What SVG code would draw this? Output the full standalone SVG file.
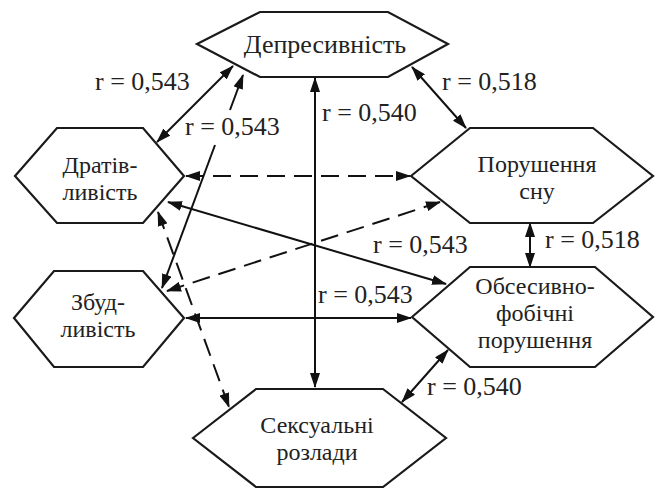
<svg xmlns="http://www.w3.org/2000/svg" width="657" height="488" viewBox="0 0 657 488">
<defs>
<style>
.node polygon{fill:#fff;stroke:#1a1a1a;stroke-width:2.2;stroke-linejoin:miter}
.txt text{font-size:26px;fill:#222}
.node text{text-anchor:middle;font-size:24px}
#n-depresyvnist text{font-size:26px}
.c{stroke:#111;stroke-width:2;fill:none;marker-end:url(#ah);marker-start:url(#ah)}
.c1{stroke:#111;stroke-width:2;fill:none;marker-end:url(#ah)}
.d{stroke-dasharray:18 9}
</style>
<marker id="ah" viewBox="0 0 15 10" refX="14" refY="5" markerWidth="15" markerHeight="10" markerUnits="userSpaceOnUse" orient="auto-start-reverse">
<path d="M0,0 L15,5 L0,10 z" fill="#111"/>
</marker>
</defs>
<rect width="657" height="488" fill="#fff"/>
<g id="connectors">
<line class="c" x1="157" y1="142" x2="233" y2="66"/>
<line class="c1" x1="230" y1="110" x2="243" y2="75"/>
<line class="c1" x1="215" y1="145" x2="162" y2="288"/>
<line class="c" x1="315" y1="78" x2="315" y2="387"/>
<line class="c" x1="412" y1="67" x2="466" y2="128"/>
<line class="c d" x1="186" y1="176" x2="410" y2="176"/>
<line class="c d" x1="167" y1="291" x2="440" y2="202"/>
<line class="c" x1="168" y1="202" x2="446" y2="284"/>
<line class="c" x1="186" y1="318" x2="411" y2="318"/>
<line class="c d" x1="158" y1="212" x2="229" y2="407"/>
<line class="c" x1="530" y1="223" x2="530" y2="267"/>
<line class="c" x1="448" y1="350" x2="402" y2="402"/>
</g>
<g class="txt" font-family="'Liberation Serif', 'Times New Roman', 'DejaVu Serif', serif">
<g id="n-depresyvnist" class="node">
<polygon points="197,44 260,12 388,12 448,44 388,77 260,77"/>
<text x="325" y="53">Депресивність</text>
</g>
<g id="n-drativlyvist" class="node">
<polygon points="15,176 57,128 143,128 184,176 143,223 57,223"/>
<text x="100" y="173">Дратів-</text>
<text x="100" y="200">ливість</text>
</g>
<g id="n-zbudlyvist" class="node">
<polygon points="14,318 54,271 143,271 184,318 143,367 54,367"/>
<text x="98" y="310">Збуд-</text>
<text x="98" y="337">ливість</text>
</g>
<g id="n-porushennia-snu" class="node">
<polygon points="411,176 470,128 593,128 653,176 593,223 470,223"/>
<text x="537" y="172">Порушення</text>
<text x="537" y="199">сну</text>
</g>
<g id="n-obsesyvno" class="node">
<polygon points="412,317 470,267 595,267 653,317 595,367 470,367"/>
<text x="535" y="294">Обсесивно-</text>
<text x="535" y="321">фобічні</text>
<text x="535" y="348">порушення</text>
</g>
<g id="n-seksualni" class="node">
<polygon points="193,438 256,389 383,389 446,438 383,487 256,487"/>
<text x="317" y="433">Сексуальні</text>
<text x="317" y="460">розлади</text>
</g>
<g id="labels">
<text x="95" y="90">r = 0,543</text>
<text x="185" y="135">r = 0,543</text>
<text x="322" y="121">r = 0,540</text>
<text x="442" y="90">r = 0,518</text>
<text x="373" y="253">r = 0,543</text>
<text x="545" y="248">r = 0,518</text>
<text x="318" y="303">r = 0,543</text>
<text x="427" y="395">r = 0,540</text>
</g>
</g>
</svg>
